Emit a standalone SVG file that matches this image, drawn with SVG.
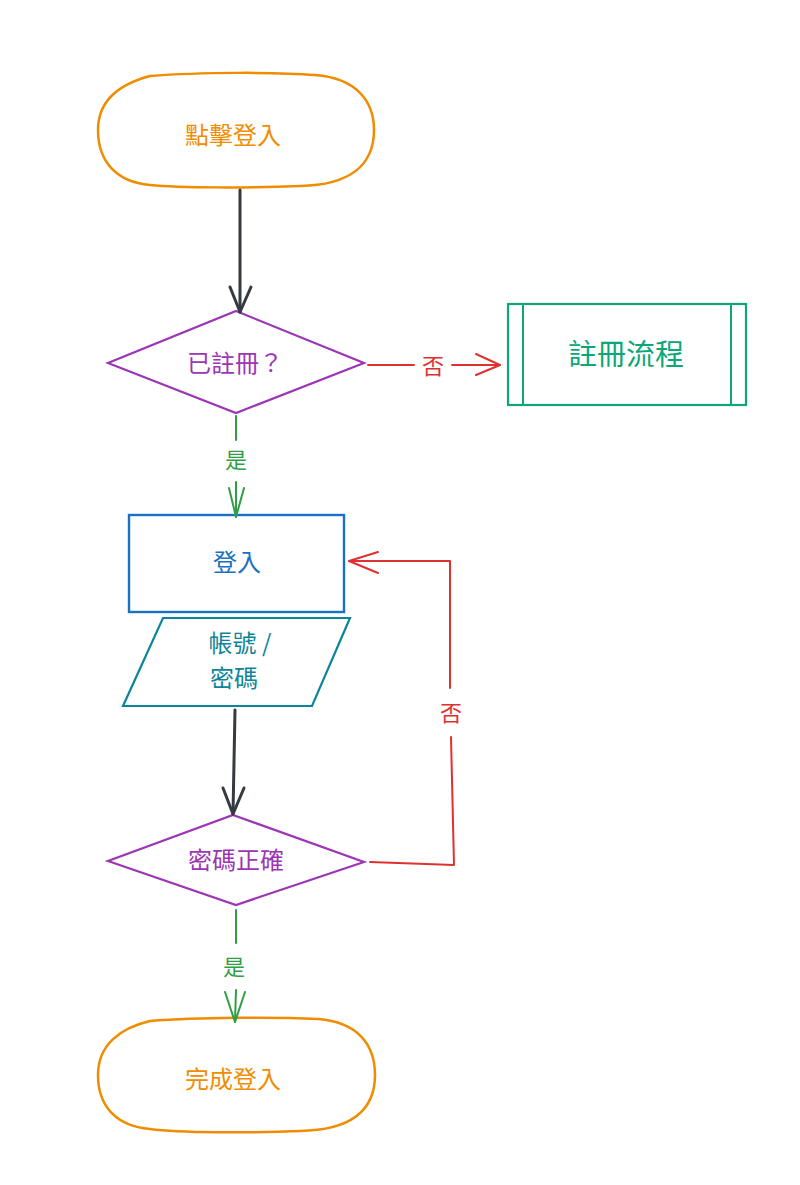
<svg xmlns="http://www.w3.org/2000/svg" width="800" height="1185" viewBox="0 0 800 1185">
<style>
text{font-family:"Noto Sans CJK TC","Noto Sans CJK SC",sans-serif;text-anchor:middle;dominant-baseline:central;font-size:24px}
text.lbl{font-size:22px}
text.big{font-size:29px}
.term{fill:#fff;stroke:#f08c00;stroke-width:2.5;stroke-linejoin:round}
.dia{fill:#fff;stroke:#9c36b5;stroke-width:2.2}
.cn{fill:none;stroke-linecap:round;stroke-linejoin:round}
.dark{stroke:#343a40;stroke-width:3}
.red{stroke:#e03131;stroke-width:2}
.grn{stroke:#2f9e44;stroke-width:2}
</style>
<rect width="800" height="1185" fill="#fff"/>
<g id="start">
<path class="term" d="M150 76 C200 72 280 72 315 75 C355 78 374 100 374 130 C374 165 350 185 300 186 C250 188 180 188 150 185 C115 182 98 160 98 130 C98 100 120 84 150 76 Z"/>
<text x="233" y="133" fill="#f08c00">點擊登入</text>
</g>
<g id="registered">
<polygon class="dia" points="236,311 364,363 236,413 108,363"/>
<text x="235" y="361" fill="#9c36b5">已註冊？</text>
</g>
<g id="register-flow">
<rect x="508" y="304" width="238" height="101" fill="#fff" stroke="#0ca678" stroke-width="2.2"/>
<line x1="523" y1="304" x2="523" y2="405" stroke="#0ca678" stroke-width="2"/>
<line x1="731" y1="304" x2="731" y2="405" stroke="#0ca678" stroke-width="2"/>
<text class="big" x="626" y="352" fill="#0ca678">註冊流程</text>
</g>
<g id="login">
<rect x="129" y="515" width="215" height="97" fill="#fff" stroke="#1971c2" stroke-width="2.4"/>
<text x="237" y="560" fill="#1971c2">登入</text>
</g>
<g id="input">
<polygon points="163,618 350,618 312,706 123,706" fill="#fff" stroke="#0c8599" stroke-width="2.2"/>
<text x="240" y="641" fill="#0c8599">帳號 /</text>
<text x="234" y="676" fill="#0c8599">密碼</text>
</g>
<g id="password-ok">
<polygon class="dia" points="233,815 364,862 236,905 108,861"/>
<text x="236" y="858" fill="#9c36b5">密碼正確</text>
</g>
<g id="end">
<path class="term" d="M150 1021 C200 1017 280 1017 318 1019 C358 1022 375 1045 375 1075 C375 1110 352 1130 300 1131 C250 1133 180 1133 150 1129 C115 1126 98 1105 98 1075 C98 1045 120 1028 150 1021 Z"/>
<text x="233" y="1077" fill="#f08c00">完成登入</text>
</g>
<g id="connectors">
<path class="cn dark" d="M240 190 L240 312"/>
<path class="cn dark" d="M230 287 L240 312 L251 287" />
<path class="cn red" d="M368 365 L414 365 M452 365 L500 365"/>
<path class="cn red" d="M476 354 L500 365 L476 375"/>
<text class="lbl" x="433" y="364" fill="#e03131">否</text>
<path class="cn grn" d="M236 416 L236 440 M236 482 L236 517"/>
<path class="cn grn" d="M229 488 L236 517 L244 488"/>
<text class="lbl" x="236" y="458" fill="#2f9e44">是</text>
<path class="cn dark" d="M235 710 L233 814"/>
<path class="cn dark" d="M223 788 L233 814 L244 788"/>
<path class="cn red" d="M370 862 L454 865 L451 737 M450 688 L450 561 L349 561"/>
<path class="cn red" d="M378 552 L349 561 L378 573"/>
<text class="lbl" x="451" y="711" fill="#e03131">否</text>
<path class="cn grn" d="M236 910 L236 943 M236 990 L235 1022"/>
<path class="cn grn" d="M225 992 L235 1022 L245 992"/>
<text class="lbl" x="234" y="965" fill="#2f9e44">是</text>
</g>
</svg>
